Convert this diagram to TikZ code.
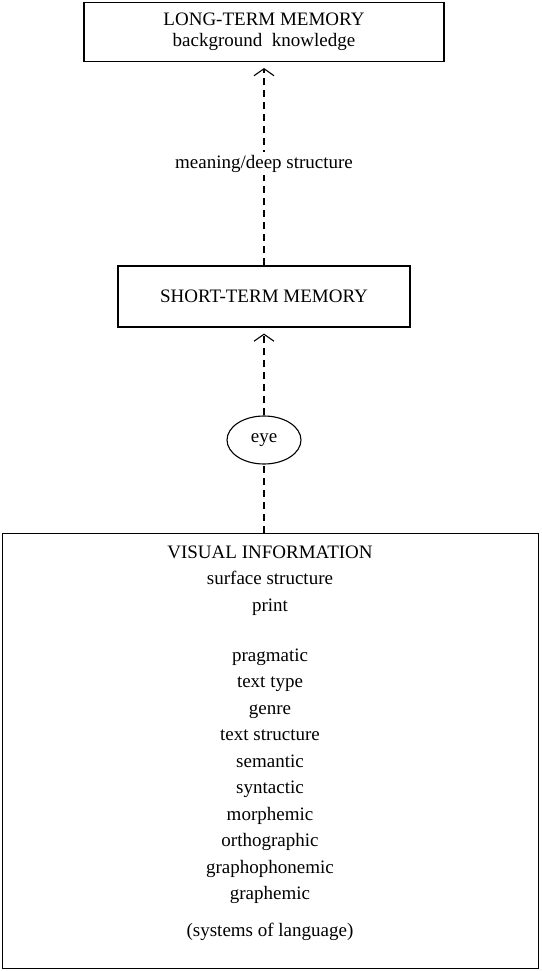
\documentclass[tikz,border=0pt]{standalone}
\usepackage{fontspec}
\setmainfont{Liberation Serif}
\usetikzlibrary{arrows.meta,shapes.geometric,positioning}

\tikzset{
  membox/.style={draw, line width=1.1pt, align=center, inner sep=0pt,
    font=\fontsize{19}{21}\selectfont},
  eyering/.style={draw, ellipse, line width=1.1pt, minimum width=74pt,
    minimum height=48pt, inner sep=0pt, font=\fontsize{19}{21}\selectfont},
  levels/.style={align=center, inner sep=0pt, font=\fontsize{19}{26.5}\selectfont},
  dashline/.style={dash pattern=on 7pt off 5pt, line width=1.1pt},
  flow/.style={dashline, shorten >=6pt,
    -{Straight Barb[length=7pt,width=20pt,line width=1.1pt]}},
}

\begin{document}
\begin{tikzpicture}[x=1pt,y=-1pt]
	\useasboundingbox (0,0) rectangle (541,971);

	% memory boxes
	\node[membox, minimum width=360pt, minimum height=59pt] (ltm) at (264,32) {LONG-TERM MEMORY\\background\ \ knowledge};
	\node[membox, minimum width=292pt, minimum height=61pt] (stm) at (264,296.5) {SHORT-TERM MEMORY};

	% eye
	\node[eyering] (eye) at (264,440) {eye};

	% visual information box
	\node[membox, minimum width=536pt, minimum height=435pt, anchor=north west] (vis) at (2,533) {};
	\node[levels, anchor=north] (syslist) at (270,545.7) {VISUAL INFORMATION\\
		surface structure\\
		print\\[23.5pt]
		pragmatic\\
		text type\\
		genre\\
		text structure\\
		semantic\\
		syntactic\\
		morphemic\\
		orthographic\\
		graphophonemic\\
		graphemic\\[10pt]
		(systems of language)};

	% connectors
	\coordinate (vistop) at (vis.north -| eye);
	\draw [flow] (stm) -- (ltm) node[midway, fill=white, inner sep=3pt, font=\fontsize{19}{21}\selectfont] (meaning) {meaning/deep structure};
	\draw [flow] (eye) -- (stm);
	\draw [dashline] (vistop) -- (eye);

\end{tikzpicture}
\end{document}
